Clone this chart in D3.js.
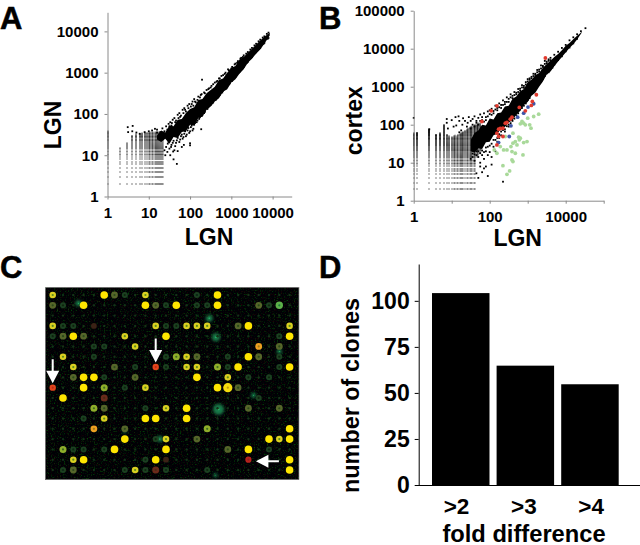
<!DOCTYPE html>
<html><head><meta charset="utf-8">
<script src="https://cdn.jsdelivr.net/npm/d3@7"></script>
<style>
html,body{margin:0;padding:0;background:#fff}
svg{display:block}
text{font-family:"Liberation Sans",Arial,sans-serif;font-weight:700;fill:#000}
</style></head><body><div id="c"></div>
<script>
// ---------- Panel A data: LGN vs LGN (positions in log10 units unless named otherwise) ----------
const aTicks = [1,10,100,1000,10000];
const aLatticeX = [1,2,3,4,5,6,7,8,9,10,11,12,13,14,15,16,17,18,19,20,21,22];
const aLatticeTop = [38,15,20,30,32,33,34,35,35,35,36,36,36,36,36,36,36,36,36,34,32,30];
const aBandX  = [1.2,1.3,1.4,1.5,1.6,1.7,1.8,1.9,2.0,2.1,2.2,2.3,2.4,2.5,2.6,2.7,2.8,2.9,3.0,3.1,3.2,3.3,3.4,3.5,3.6,3.7,3.8,3.93];
const aBandHi = [1.48,1.6,1.55,1.72,1.7,1.86,1.88,2.02,2.12,2.16,2.34,2.36,2.5,2.58,2.66,2.82,2.86,3.0,3.12,3.16,3.32,3.38,3.48,3.58,3.68,3.78,3.87,3.97];
const aBandLo = [1.38,1.32,1.4,1.28,1.44,1.42,1.56,1.58,1.74,1.72,1.9,1.94,2.1,2.18,2.3,2.38,2.54,2.6,2.76,2.84,2.98,3.08,3.24,3.34,3.46,3.56,3.7,3.9];
const aScatter = [[1.2,1.62],[1.28,1.56],[1.33,1.65],[1.38,1.58],[1.42,1.7],[1.45,1.62],[1.48,1.76],[1.52,1.8],[1.55,1.72],[1.58,1.86],[1.62,1.9],[1.66,1.84],[1.7,1.98],[1.74,2.02],[1.78,1.96],[1.82,2.1],[1.86,2.14],[1.9,2.06],[1.94,2.2],[1.98,2.24],[2.02,2.18],[2.06,2.3],[2.1,2.36],[2.14,2.28],[2.2,2.42],[2.26,2.46],[2.29,2.83],[2.34,2.52],[2.4,2.58],[2.46,2.62],[2.52,2.68],[2.6,2.76],[2.66,2.8],[2.72,2.86],[2.8,2.94],[2.86,3],[2.94,3.06],[3.02,3.14],[3.1,3.22],[3.16,3.28],[3.24,3.36],[3.3,3.42],[3.4,3.5],[3.5,3.6],[3.6,3.7],[3.7,3.8],[3.8,3.88],[3.9,3.97],[1.42,1.2],[1.46,1.28],[1.5,1.16],[1.55,1.25],[1.6,1.35],[1.62,1.12],[1.66,1.3],[1.7,1.42],[1.76,1.38],[1.8,1.5],[1.84,1.44],[1.88,1.58],[1.92,1.5],[1.96,1.66],[2,1.58],[2.04,1.72],[2.08,1.64],[2.12,1.78],[2.18,1.84],[2.24,1.92],[2.3,1.98],[2.36,2.05],[2.42,2.12],[2.5,2.22],[2.56,2.28],[2.64,2.38],[2.72,2.46],[2.8,2.56],[2.88,2.66],[2.96,2.74],[3.04,2.84],[3.12,2.94],[3.2,3.02],[3.3,3.14],[3.4,3.26],[3.5,3.38],[3.6,3.5],[3.7,3.6],[3.8,3.72],[3.9,3.84],[1.68,.79],[2,1.29],[2,1.24],[1.59,1.09],[1.6,.9],[1.52,1.0],[1.45,1.08],[1.4,1.0],[1.38,1.12],[1.7,1.1],[1.8,1.2],[1.85,1.25],[2.27,1.63],[.49,1.68],[.61,1.71],[.5,1.56],[.6,1.58],[.7,1.55],[.78,1.52],[.9,1.56],[1,1.58],[1.08,1.6],[1.15,1.64],[1.2,1.55],[1.3,1.45],
[1.25,1.5],[1.35,1.5],[1.45,1.55],[1.5,1.7],[1.56,1.78],[1.64,1.8],[1.72,1.9],[1.76,1.93],[1.84,2.02],[1.88,2.1],[1.96,2.14],[2.04,2.24],[2.08,2.2],[2.12,2.3],[2.18,2.34],[2.24,2.4],[2.28,2.48],[2.36,2.5],[2.44,2.6],[2.5,2.64],[2.56,2.72],[2.64,2.78],[2.7,2.86],[2.76,2.92],[2.84,2.97],[2.92,3.08],[3,3.1],[3.08,3.2],[3.14,3.24],[3.22,3.34],[3.28,3.38],[3.36,3.46],[3.46,3.56],[3.56,3.66],[3.66,3.76],[3.76,3.85],[3.86,3.94],
[1.48,1.32],[1.54,1.2],[1.58,1.3],[1.64,1.22],[1.68,1.36],[1.74,1.32],[1.78,1.46],[1.82,1.4],[1.86,1.52],[1.9,1.46],[1.94,1.6],[1.98,1.54],[2.02,1.68],[2.06,1.6],[2.1,1.74],[2.16,1.8],[2.22,1.88],[2.28,1.95],[2.34,2.02],[2.44,2.16],[2.54,2.26],[2.62,2.34],[2.7,2.44],[2.78,2.52],[2.86,2.62],[2.94,2.72],[3.02,2.8],[3.1,2.9],[3.18,3],[3.28,3.12],[3.38,3.24],[3.48,3.36],[3.58,3.48],[3.68,3.6],[3.78,3.7],[3.88,3.82]];

// ---------- Panel B data: LGN vs cortex ----------
const bTicksX = [1,10,100,1000,10000,100000];
const bLabelsX = [1,100,10000];
const bTicksY = [1,10,100,1000,10000,100000];
const bLatticeX = [1,1.25,2.5,3.75,5,6.25,7.5,8.75,10,11.25,12.5,13.75,15,16.25,17.5,18.75,20,22.5,25,27.5,30,32.5,35,37.5,40,45,50,55,60];
const bLatticeBottom = [2,2,2,2,2,2,2,2,2,2,2,2,2,2,2,2,2,2,2,2,2,2,2,2,2,14,16,18,22];
const bLatticeTop = [60,62,75,55,60,100,55,50,48,50,52,50,55,58,60,62,65,70,75,80,85,90,90,95,100,100,110,110,90];
const bBandX  = [1.5,1.6,1.7,1.8,1.9,2.0,2.1,2.2,2.3,2.4,2.5,2.6,2.7,2.8,2.9,3.0,3.1,3.2,3.3,3.4,3.5,3.6,3.7,3.8,3.9,4.0,4.1,4.2,4.3,4.42];
const bBandHi = [1.6,1.78,1.85,2.0,1.98,2.16,2.14,2.3,2.32,2.48,2.5,2.68,2.74,2.88,2.94,3.12,3.18,3.3,3.36,3.5,3.6,3.68,3.78,3.86,3.96,4.08,4.15,4.25,4.34,4.44];
const bBandLo = [1.3,1.26,1.38,1.36,1.54,1.55,1.72,1.76,1.9,1.94,2.06,2.12,2.26,2.36,2.52,2.6,2.76,2.84,3.0,3.14,3.32,3.4,3.54,3.66,3.78,3.9,4.02,4.12,4.24,4.42];
const bScatter = [[1.45,2.2],[1.5,2.1],[1.55,2.15],[1.6,2.22],[1.65,2.05],[1.7,2.18],[1.75,2.27],[1.8,2.12],[1.85,2.3],[1.9,2.2],[1.95,2.35],[2,2.28],[2.05,2.42],[2.1,2.36],[2.15,2.5],[2.2,2.44],[2.25,2.56],[2.3,2.52],[2.35,2.64],[2.4,2.6],[2.45,2.72],[2.5,2.68],[2.55,2.8],[2.6,2.76],[2.65,2.86],[2.7,2.84],[2.75,2.94],[2.8,2.95],[2.85,3.04],[2.9,3.02],[2.95,3.12],[3,3.14],[3.05,3.22],[3.1,3.26],[3.15,3.34],[3.2,3.34],[3.25,3.44],[3.3,3.45],[3.35,3.56],[3.4,3.55],[3.45,3.68],[3.5,3.66],[3.55,3.72],[3.6,3.76],[3.7,3.84],[3.8,3.92],[3.9,4.02],[4,4.1],[4.1,4.22],[4.2,4.3],[4.3,4.38],[4.4,4.46],[4.52,4.54],[1.5,1.1],[1.55,1.24],[1.6,1.05],[1.65,1.3],[1.7,1.15],[1.75,.9],[1.8,1.32],[1.85,1.1],[1.9,1.4],[1.95,1.2],[2,1.28],[2.05,1.15],[2.1,1.42],[2.15,1.3],[2.2,1.55],[2.25,1.65],[2.3,1.72],[2.4,1.82],[2.5,1.95],[2.6,2.1],[2.7,2.25],[2.8,2.4],[2.9,2.5],[3,2.65],[3.1,2.82],[3.2,2.98],[3.3,3.1],[3.4,3.2],[3.5,3.35],[3.6,3.46],[3.7,3.58],[3.8,3.7],[3.9,3.8],[4,3.93],[4.1,4.03],[4.2,4.14],[4.3,4.26],[1.7,.6],[2.35,.5],[1.8,.75],[1.9,.9],[1.95,.65],[2.05,.95],[1.85,.85],[1.65,.72],[1.75,1.0],[.87,2.15],[.87,2.05],[1,2.12],[1.1,2.2],[1.18,2.22],[1.2,2.1],[1.28,2.0],[1.3,2.17],[.9,1.9],[1.05,1.95],[1.12,1.98],[1.35,2.1],[1.4,1.95],[1.42,2.05],[1.25,1.85],[1.2,1.8],[0,2.18],[.41,1.88],
[1.5,1.9],[1.55,2.0],[1.6,1.95],[1.65,2.1],[1.7,2.0],[1.75,2.1],[1.8,2.2],[1.85,2.08],[1.9,2.12],[1.95,2.22],[2,2.38],[2.05,2.26],[2.1,2.3],[2.15,2.4],[2.2,2.38],[2.25,2.46],[2.3,2.44],[2.35,2.52],[2.4,2.54],[2.45,2.6],[2.5,2.6],[2.55,2.72],[2.6,2.7],[2.65,2.78],[2.7,2.8],[2.75,2.86],[2.8,2.9],[2.85,2.98],[2.9,2.97],[2.95,3.06],[3,3.2],[3.05,3.18],[3.1,3.22],[3.15,3.28],[3.2,3.31],[3.25,3.38],[3.3,3.4],[3.35,3.48],[3.4,3.52],[3.45,3.6],[3.5,3.62],[3.55,3.68],[3.6,3.7],
[1.55,1.15],[1.6,1.22],[1.65,1.2],[1.7,1.3],[1.75,1.25],[1.8,1.2],[1.85,1.28],[1.9,1.3],[1.95,1.42],[2,1.45],[2.05,1.5],[2.1,1.6],[2.15,1.6],[2.2,1.65],[2.25,1.75],[2.3,1.82],[2.35,1.86],[2.4,1.88],[2.45,1.96],[2.5,2.0],[2.55,2.04],[2.65,2.16],[2.75,2.3],[2.85,2.44],[2.95,2.56],[3.05,2.7],[3.15,2.86],[3.25,3.02],[3.35,3.14],[3.45,3.28],[3.55,3.38],[3.65,3.5]];
const bRed = [[3.465,3.755],[3.228,2.788],[3.122,2.612],[3.096,2.507],[2.938,2.366],[2.779,2.454],[2.19,2.498],[2.04,2.366],[1.794,2.084],[2.586,2.199],[2.542,2.146],[2.41,2.04],[2.348,1.909],[2.234,1.882],[2.28,1.9],[2.19,1.777],[2.348,1.689],[2.234,1.689],[2.19,1.469],[2.454,2.058]];
const bBlue = [[3.157,2.551],[3.008,2.463],[2.894,2.304],[2.735,2.199],[2.559,1.97],[2.515,1.689],[2.234,1.53]];
const bGreen = [[3.289,2.278],[3.157,2.216],[3.0,2.172],[2.85,2.084],[2.806,2.023],[2.894,2.04],[2.938,1.996],[3.052,1.996],[3.087,1.909],[2.806,1.645],[2.762,1.671],[2.612,1.777],[2.41,1.689],[2.982,1.557],[2.894,1.53],[2.779,1.601],[2.674,1.557],[2.718,1.469],[2.612,1.513],[2.559,1.425],[2.454,1.337],[2.278,1.425],[2.12,1.337],[2.19,1.249],[2.366,1.337],[2.586,1.293],[2.674,1.249],[2.876,1.205],[2.586,1.073],[2.612,1.029],[2.348,.923],[2.524,.783],[2.454,.695]];

// ---------- Panel C data: array spots, one code per grid cell ----------
const cRows = [
"y....Yog.y....g.Y.......",
"og.Y.....YogY.ggY...ogL.",
"........................",
"ygg.d.....yggyyy..oY...y",
"goYo...y...Y..........gY",
"....gg..y...........O.o.",
".y..g......glyo..g.Yo.g.",
"..y...o.g.rg.yy.lgY...gY",
"..oYYg..o.....Y..y.g.g..",
"r..Y.l.g.y......YBo.....",
".Y...D..............g...",
"....lo...g.y.Y.....o..o.",
"...g.y...YY..Y..........",
"....O..o.......l.......Y",
".......Y..gy..o......YyY",
".lgg.gY....Y.....o.Y.g..",
"..yY.....gYd.......R...Y",
".go....gygDg...g.......Y"];
const cBlobs = [[15.2,2.26,3.5],[15.85,4.1,4],[16.1,11.1,5.5],[19.5,9.75,2.5],[10.4,14,3],[2.5,.8,3],[15.8,17.5,2],[22,5.5,2.5],[7,13.2,2]];
const cArrows = [{col:0,row:9,dir:"down"},{col:10,row:7,dir:"down"},{col:19,row:16,dir:"left"}];

// ---------- Panel D data ----------
const dCategories = [">2",">3",">4"];
const dValues = [104.2,64.8,54.7];
const dTicks = [0,25,50,75,100];
const panelLetters = [["A",0,28.5],["B",319,28.5],["C",0,278],["D",319,278]];

const svg = d3.select("#c").append("svg").attr("width",640).attr("height",545);
const defs = svg.append("defs");
const nf = defs.append("filter").attr("id","noise").attr("x",0).attr("y",0).attr("width",1).attr("height",1).attr("color-interpolation-filters","sRGB");
nf.append("feTurbulence").attr("type","fractalNoise").attr("baseFrequency",0.7).attr("numOctaves",2).attr("seed",7);
nf.append("feColorMatrix").attr("type","matrix").attr("values","0.4 0 0 0 -0.22  0 0.9 0 0 -0.5  0 0 0 0 0.02  0 0 0 0 1");
defs.append("filter").attr("id","soft").attr("x","-30%").attr("y","-30%").attr("width","160%").attr("height","160%").append("feGaussianBlur").attr("stdDeviation",0.45);
defs.append("filter").attr("id","halo").attr("x","-60%").attr("y","-60%").attr("width","220%").attr("height","220%").append("feGaussianBlur").attr("stdDeviation",1.5);

panelLetters.forEach(([t,x,y])=>svg.append("text").attr("x",x).attr("y",y).attr("font-size",31).attr("stroke","#000").attr("stroke-width",.5).text(t));

function styleAxis(g,color,fs){
  g.selectAll("path,line").attr("stroke",color).attr("stroke-width",1);
  g.selectAll("text").attr("font-size",fs).style("font-weight",700).attr("fill","#000");
  g.attr("font-family",null);
}
const fmt=v=>String(v);

function scatter(o){
  const x=d3.scaleLog().domain(o.xDom).range(o.xRange);
  const y=d3.scaleLog().domain(o.yDom).range(o.yRange);
  const g=svg.append("g");
  const lat=[];
  o.latX.forEach((cx,i)=>{
    const nx=o.latX[Math.min(i+1,o.latX.length-1)];
    const sx=i+1<o.latX.length?Math.abs(x(nx)-x(cx)):1;
    d3.range(o.latBottom?o.latBottom[i]:2,o.latTop[i]+1).forEach(r=>{
      const sy=Math.abs(y(r+1)-y(r));
      lat.push({cx,r,a:Math.min(1,.15+.62*sx*sy)});
    });
  });
  g.append("g").selectAll("rect").data(lat).join("rect")
    .attr("x",d=>Math.round(x(d.cx))-.5).attr("y",d=>Math.round(y(d.r))-.5).attr("width",1).attr("height",1)
    .attr("fill","#000").attr("fill-opacity",d=>d.a);
  const upper=o.bandX.map((v,i)=>[v,o.bandHi[i]]);
  const lower=o.bandX.map((v,i)=>[v,o.bandLo[i]]).reverse();
  g.append("path").datum(upper.concat(lower)).attr("fill","#000")
    .attr("d",d3.line().x(d=>x(10**d[0])).y(d=>y(10**d[1])));
  g.append("g").selectAll("rect").data(o.points).join("rect")
    .attr("x",d=>x(10**d[0])-.9).attr("y",d=>y(10**d[1])-.9).attr("width",1.8).attr("height",1.8).attr("fill","#000");
  (o.marks||[]).forEach(m=>{
    g.append("g").selectAll("circle").data(m.data).join("circle")
      .attr("cx",d=>x(10**d[0])).attr("cy",d=>y(10**d[1])).attr("r",1.9).attr("fill",m.color);
  });
  const ax=g.append("g").attr("transform",`translate(0,${o.yRange[0]})`)
    .call(d3.axisBottom(x).tickValues(o.xTicks).tickFormat(d=>o.xLabels.includes(d)?fmt(d):"").tickSize(3).tickSizeOuter(0).tickPadding(8));
  styleAxis(ax,"#8a8a8a",15);
  const ay=g.append("g").attr("transform",`translate(${o.xRange[0]},0)`)
    .call(d3.axisLeft(y).tickValues(o.yTicks).tickFormat(fmt).tickSize(3).tickSizeOuter(0).tickPadding(6));
  styleAxis(ay,"#8a8a8a",15);
  g.append("text").attr("x",o.xlab[0]).attr("y",o.xlab[1]).attr("text-anchor","middle").attr("font-size",23).text(o.xlab[2]);
  g.append("text").attr("transform",`translate(${o.ylab[0]},${o.ylab[1]}) rotate(-90)`).attr("text-anchor","middle").attr("font-size",23).text(o.ylab[2]);
}

scatter({xDom:[1,29000],xRange:[107.5,291.7],yDom:[1,29000],yRange:[196.5,12.3],
  latX:aLatticeX,latTop:aLatticeTop,bandX:aBandX,bandLo:aBandLo,bandHi:aBandHi,points:aScatter,
  xTicks:aTicks,xLabels:aTicks,yTicks:aTicks,xlab:[209,245,"LGN"],ylab:[60.5,125,"LGN"]});
scatter({xDom:[1,100000],xRange:[413.7,603.7],yDom:[1,100000],yRange:[200.7,10.7],
  latX:bLatticeX,latBottom:bLatticeBottom,latTop:bLatticeTop,bandX:bBandX,bandLo:bBandLo,bandHi:bBandHi,points:bScatter,
  marks:[{data:bGreen,color:"#a9d99a"},{data:bBlue,color:"#3f56a8"},{data:bRed,color:"#e03a2e"}],
  xTicks:bTicksX,xLabels:bLabelsX,yTicks:bTicksY,xlab:[517.7,246,"LGN"],ylab:[361.5,120.7,"cortex"]});

// Panel C
const colX=d3.scaleLinear().domain([0,23]).range([52.7,289.6]);
const rowY=d3.scaleLinear().domain([0,17]).range([295,470]);
const cG=svg.append("g");
cG.append("rect").attr("x",45.5).attr("y",287.5).attr("width",253.5).attr("height",192).attr("fill","#000").attr("filter","url(#noise)");
cG.append("rect").attr("x",45.5).attr("y",287.5).attr("width",253.5).attr("height",192).attr("fill","none").attr("stroke","#999").attr("stroke-width",.7);
const spotStyle={
  ".":{r:1.2,f:"#123018",c:null},
  "g":{r:3.0,f:"#1b4020",c:"#0e2410"},
  "o":{r:3.4,f:"#56662a",c:"#2a4a1a"},
  "l":{r:3.5,f:"#8fae2c",c:"#3d6a20"},
  "y":{r:3.3,f:"#d9d020",c:"#5a8a20"},
  "Y":{r:3.8,f:"#ffe600",c:null},
  "B":{r:4.6,f:"#f5dc10",c:"#c09a10"},
  "O":{r:3.4,f:"#eea020",c:"#a07a20"},
  "r":{r:3.2,f:"#e2451c",c:"#c02a18"},
  "R":{r:3.1,f:"#b8231c",c:"#8a2020"},
  "d":{r:2.9,f:"#3a2414",c:null},
  "D":{r:3.5,f:"#6b2a1a",c:"#4a2a16"},
  "L":{r:3.7,f:"#5db04a",c:"#1f7a3a"}
};
const spots=[];
cRows.forEach((s,row)=>[...s].forEach((k,col)=>spots.push({col,row,k})));
const sG=cG.append("g").attr("filter","url(#soft)");
sG.append("g").attr("filter","url(#halo)").selectAll("circle").data(cBlobs).join("circle")
  .attr("cx",d=>colX(d[0])).attr("cy",d=>rowY(d[1])).attr("r",d=>d[2]).attr("fill","#137a48");
sG.append("g").selectAll("circle").data(cBlobs).join("circle")
  .attr("cx",d=>colX(d[0])).attr("cy",d=>rowY(d[1])).attr("r",d=>d[2]*.2).attr("fill","#2fb868");
sG.append("g").selectAll("circle").data(spots).join("circle")
  .attr("cx",d=>colX(d.col)).attr("cy",d=>rowY(d.row)).attr("r",d=>spotStyle[d.k].r).attr("fill",d=>spotStyle[d.k].f);
sG.append("g").selectAll("circle").data(spots.filter(d=>spotStyle[d.k].c)).join("circle")
  .attr("cx",d=>colX(d.col)).attr("cy",d=>rowY(d.row)).attr("r",1.1).attr("fill",d=>spotStyle[d.k].c);
const arrowG=cG.append("g");
cArrows.forEach(a=>{
  const tx=colX(a.col)+(a.dir==="left"?7.5:0), ty=rowY(a.row)+(a.dir==="left"?1.5:-4.5);
  const k=a.dir==="left"?[[0,0],[12.5,-6.5],[12.5,-1],[23,-1],[23,1],[12.5,1],[12.5,6.5]]
                        :[[0,0],[-6.5,-12.5],[-1,-12.5],[-1,-24],[1,-24],[1,-12.5],[6.5,-12.5]];
  arrowG.append("polygon").attr("fill","#fff").attr("points",k.map(p=>[tx+p[0],ty+p[1]].join(",")).join(" "));
});

// Panel D
const dx=d3.scaleBand().domain(dCategories).range([428.45,622.25]).paddingInner(.11).paddingOuter(.055);
const dLabelX=d3.scalePoint().domain(dCategories).range([456,590.7]);
const dy=d3.scaleLinear().domain([0,120]).range([485,264]);
const dG=svg.append("g");
dG.selectAll("rect").data(dValues).join("rect")
  .attr("x",(d,i)=>dx(dCategories[i])).attr("width",dx.bandwidth())
  .attr("y",d=>dy(d)).attr("height",d=>dy(0)-dy(d)).attr("fill","#000");
const dax=dG.append("g").attr("transform","translate(0,485)")
  .call(d3.axisBottom(dLabelX).tickSize(0).tickPadding(13));
dax.select("path").attr("d","M415,0.5H640");
styleAxis(dax,"#000",22.5);
const day=dG.append("g").attr("transform","translate(418.7,0)")
  .call(d3.axisLeft(dy).tickValues(dTicks).tickSize(4).tickSizeOuter(0).tickPadding(5));
styleAxis(day,"#000",23);
dG.append("text").attr("x",524).attr("y",541.5).attr("text-anchor","middle").attr("font-size",23.7).text("fold difference");
dG.append("text").attr("transform","translate(359,395.5) rotate(-90)").attr("text-anchor","middle").attr("font-size",23.4).text("number of clones");
</script></body></html>
